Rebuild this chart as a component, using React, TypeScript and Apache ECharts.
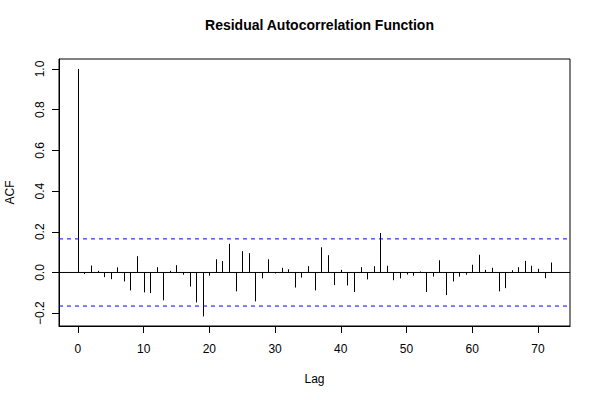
import React, { useEffect, useRef } from "react";
import * as echarts from "echarts";

const lags: number[] = Array.from({ length: 73 }, (_, i) => i);
const acfValues: number[] = [
  1.0, -0.008, 0.034, 0.008, -0.023, -0.033, 0.025, -0.044, -0.088, 0.08,
  -0.098, -0.101, 0.026, -0.137, 0.008, 0.036, -0.011, -0.069, -0.147, -0.216,
  -0.016, 0.065, 0.056, 0.141, -0.093, 0.105, 0.095, -0.142, -0.029, 0.065,
  -0.005, 0.023, 0.016, -0.074, -0.025, 0.031, -0.088, 0.124, 0.085, -0.062,
  0.013, -0.064, -0.096, 0.026, -0.034, 0.031, 0.194, 0.033, -0.038, -0.029,
  -0.01, -0.016, 0.005, -0.096, -0.02, 0.06, -0.111, -0.044, -0.02, -0.011,
  0.038, 0.087, 0.013, 0.023, -0.093, -0.077, 0.011, 0.026, 0.057, 0.033,
  0.018, -0.028, 0.049,
];
const confLimit = 0.165;
const xTicks: number[] = [0, 10, 20, 30, 40, 50, 60, 70];
const yTicks: number[] = [-0.2, 0, 0.2, 0.4, 0.6, 0.8, 1.0];
const xRange = [-2.88, 74.88];
const yRange = [-0.263, 1.049];

const FONT = "'Liberation Sans', Arial, Helvetica, sans-serif";

export default function App() {
  const ref = useRef<HTMLDivElement>(null);
  useEffect(() => {
    if (!ref.current) return;
    const chart = echarts.init(ref.current, null, { renderer: "svg" });
    const option: any = {
      animation: false,
      backgroundColor: "#ffffff",
      textStyle: { fontFamily: FONT },
      title: {
        text: "Residual Autocorrelation Function",
        left: 314.5,
        top: 13,
        textAlign: "center",
        textStyle: { fontFamily: FONT, fontSize: 14, fontWeight: "bold", color: "#000" },
      },
      grid: {
        left: 59,
        right: 30,
        top: 59,
        bottom: 74,
        show: true,
        containLabel: false,
        outerBoundsMode: "none",
        borderColor: "#000",
        borderWidth: 1,
        backgroundColor: "transparent",
      },
      xAxis: {
        type: "value",
        min: xRange[0],
        max: xRange[1],
        name: "Lag",
        nameLocation: "middle",
        nameGap: 47,
        nameTextStyle: { fontFamily: FONT, fontSize: 12, color: "#000" },
        splitLine: { show: false },
        axisLine: { show: true, onZero: false, lineStyle: { color: "#000", width: 1 } },
        axisTick: { show: true, inside: false, length: 7, customValues: xTicks, lineStyle: { color: "#000" } },
        axisLabel: {
          customValues: xTicks,
          margin: 17,
          fontFamily: FONT,
          fontSize: 12,
          color: "#000",
        },
      },
      yAxis: {
        type: "value",
        min: yRange[0],
        max: yRange[1],
        name: "ACF",
        nameLocation: "middle",
        nameGap: 43,
        nameRotate: 90,
        nameTextStyle: { fontFamily: FONT, fontSize: 12, color: "#000" },
        splitLine: { show: false },
        axisLine: { show: true, onZero: false, lineStyle: { color: "#000", width: 1 } },
        axisTick: { show: true, inside: false, length: 7, customValues: yTicks, lineStyle: { color: "#000" } },
        axisLabel: {
          customValues: yTicks,
          rotate: 90,
          margin: 13,
          fontFamily: FONT,
          fontSize: 12,
          color: "#000",
          formatter: (v: number) => v.toFixed(1).replace("-", "\u2212"),
        },
      },
      series: [
        {
          type: "line",
          data: [[xRange[0], 0], [xRange[1], 0]],
          symbol: "none",
          lineStyle: { color: "#000", width: 1 },
          silent: true,
        },
        {
          type: "line",
          data: [[xRange[0], confLimit], [xRange[1], confLimit]],
          symbol: "none",
          lineStyle: { color: "#0000ff", width: 1, type: [4, 4] },
          silent: true,
        },
        {
          type: "line",
          data: [[xRange[0], -confLimit], [xRange[1], -confLimit]],
          symbol: "none",
          lineStyle: { color: "#0000ff", width: 1, type: [4, 4] },
          silent: true,
        },
        {
          type: "custom",
          data: lags.map((l, i) => [l, acfValues[i]]),
          renderItem: (params: any, api: any) => {
            const p0 = api.coord([api.value(0), 0]);
            const p1 = api.coord([api.value(0), api.value(1)]);
            const x = Math.round(p0[0]) + 0.5;
            return {
              type: "line",
              shape: { x1: x, y1: p0[1], x2: x, y2: p1[1] },
              style: { stroke: "#000", lineWidth: 1 },
            };
          },
          silent: true,
        },
      ],
    };
    chart.setOption(option);
    return () => chart.dispose();
  }, []);
  return (
    <div
      ref={ref}
      style={{ position: "fixed", left: 0, top: 0, width: 600, height: 400 }}
    />
  );
}
